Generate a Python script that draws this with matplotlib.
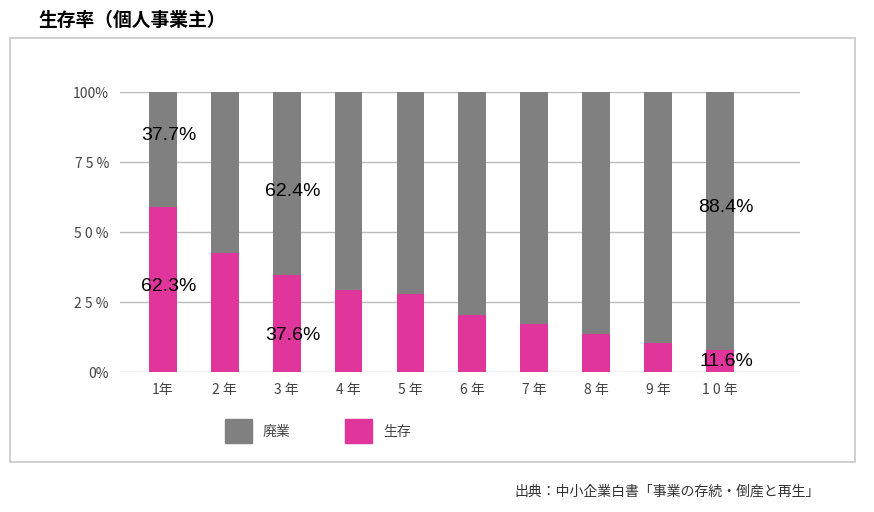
import matplotlib.pyplot as plt
from matplotlib.patches import Rectangle

plt.rcParams['font.family'] = ['Noto Sans CJK JP', 'DejaVu Sans']

years = ["1年", "2 年", "3 年", "4 年", "5 年", "6 年", "7 年", "8 年", "9 年", "1 0 年"]
survive = [59.0, 42.5, 34.6, 29.3, 27.9, 20.4, 17.0, 13.6, 10.4, 7.9]
yticks = [0, 25, 50, 75, 100]
ytick_labels = ["0%", "2 5 %", "5 0 %", "7 5 %", "100%"]
# (bar index, y position, text)
annotations = [(0, 84.3, "37.7%"), (0, 30.7, "62.3%"), (2, 64.3, "62.4%"),
               (2, 13.2, "37.6%"), (9, 58.6, "88.4%"), (9, 3.6, "11.6%")]

GRAY = "#808080"
PINK = "#e0359a"

fig = plt.figure(figsize=(8.74, 5.12), dpi=100)
fig.patches.append(Rectangle((10 / 874, 50 / 512), 845 / 874, 424 / 512, transform=fig.transFigure,
                             fill=False, edgecolor="#c8c8c8", linewidth=1.2))
fig.text(38 / 874, 1 - 20 / 512, "生存率（個人事業主）", fontsize=13.5, fontweight="bold", va="center")

ax = fig.add_axes([120 / 874, 140 / 512, 680 / 874, 280 / 512])
x = list(range(len(years)))
ax.bar(x, [100] * len(x), width=0.45, color=GRAY, zorder=2)
ax.bar(x, survive, width=0.45, color=PINK, zorder=3)
for i, y, t in annotations:
    ax.text(i + 0.1, y, t, ha="center", va="center", fontsize=14,
            family="Liberation Sans", fontweight="medium", zorder=4)

ax.set_xlim(-0.69, 10.29)
ax.set_ylim(0, 100)
ax.set_yticks(yticks)
ax.set_yticklabels(ytick_labels, fontsize=10, color="#444444")
ax.set_xticks(x)
ax.set_xticklabels(years, fontsize=10, color="#444444")
ax.tick_params(length=0, pad=8)
ax.grid(axis="y", color="#bbbbbb", linewidth=1, zorder=0)
for s in ax.spines.values():
    s.set_visible(False)

for px, col, lab in [(225, GRAY, "廃業"), (345, PINK, "生存")]:
    fig.patches.append(Rectangle((px / 874, 1 - 443 / 512), 27 / 874, 24 / 512,
                                 transform=fig.transFigure, color=col))
    fig.text((px + 38) / 874, 1 - 432 / 512, lab, fontsize=10, va="center", color="#444444")

fig.text(820 / 874, 1 - 492 / 512, "出典：中小企業白書「事業の存続・倒産と再生」", fontsize=10,
         ha="right", va="center", color="#333333")

fig.savefig("out.png", dpi=100)
